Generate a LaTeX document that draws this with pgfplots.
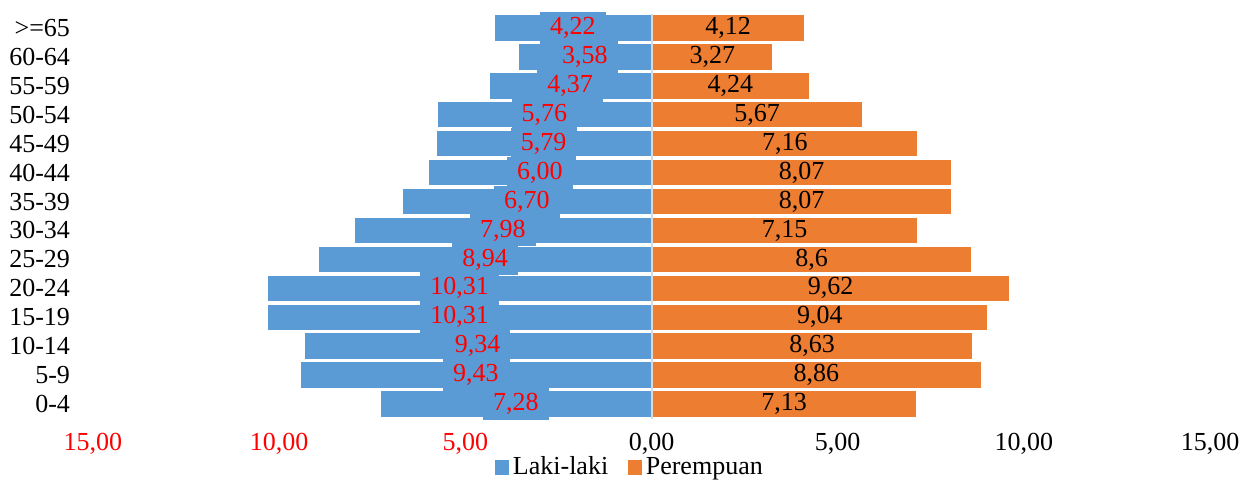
\documentclass[border=0pt]{standalone}
\usepackage{fontspec}
\setmainfont{Liberation Serif}
\usepackage{pgfplots}
\pgfplotsset{compat=1.18}
\usepackage{pgfplotstable}
\definecolor{lk}{HTML}{5B9BD5}
\definecolor{pr}{HTML}{ED7D31}
\definecolor{lbl}{HTML}{FF0000}

% y: 0 = 0-4 ... 13 = >=65 ; m = Laki-laki, f = Perempuan
\pgfplotstableread{
y m f
0 7.28 7.13
1 9.43 8.86
2 9.34 8.63
3 10.31 9.04
4 10.31 9.62
5 8.94 8.6
6 7.98 7.15
7 6.70 8.07
8 6.00 8.07
9 5.79 7.16
10 5.76 5.67
11 4.37 4.24
12 3.58 3.27
13 4.22 4.12
}\pyr

\begin{document}
\fontsize{13}{15}\selectfont
\begin{tikzpicture}
\begin{axis}[
    name=ax,
    scale only axis,
    width=558.5pt, height=202.5pt,
    xmin=-15, xmax=15,
    ymin=-0.5, ymax=13.5,
    clip=false,
    axis line style={draw=none},
    major tick length=0pt,
    font=\fontsize{13}{15}\selectfont,
    xtick={-15,-10,...,15},
    xticklabel={\ifdim\tick pt<-0.01pt\color{lbl}\fi\pgfmathparse{abs(\tick)}\pgfmathprintnumber[fixed,fixed zerofill,precision=2,use comma,assume math mode=true]{\pgfmathresult}},
    xticklabel style={anchor=center, yshift=-12.5pt},
    ytick={0,...,13},
    yticklabels={0-4,5-9,10-14,15-19,20-24,25-29,30-34,35-39,40-44,45-49,50-54,55-59,60-64,>=65},
    yticklabel style={xshift=-7pt},
    legend style={at={(0.4817,0)}, anchor=center, yshift=-24.5pt, draw=none, fill=none,
        legend columns=2, /tikz/every even column/.append style={column sep=8pt},
        font=\fontsize{13}{15}\selectfont},
]
\addplot[xbar, bar width=13.5pt, bar shift=0pt, fill=lk, draw=white, line width=0.8pt,
    legend image code/.code={\fill[lk] (0pt,-3.2pt) rectangle (6pt,3.2pt);}]
    table[x expr=-\thisrow{m}, y=y]{\pyr};
\addlegendentry{Laki-laki}
\addplot[xbar, bar width=13.5pt, bar shift=0pt, fill=pr, draw=white, line width=0.8pt,
    legend image code/.code={\fill[pr] (0pt,-3.2pt) rectangle (6pt,3.2pt);}]
    table[x=f, y=y]{\pyr};
\addlegendentry{Perempuan}

\draw[black!15, line width=1pt] (axis cs:0,-0.5) -- (axis cs:0,13.5);

\addplot[only marks, mark=*, mark size=0pt, mark options={draw=none,fill=none}, forget plot,
    point meta=explicit,
    nodes near coords={\pgfmathprintnumber[fixed,fixed zerofill,precision=2,use comma,assume math mode=true]{\pgfplotspointmeta}},
    every node near coord/.append style={anchor=center, text=lbl, fill=lk, inner xsep=5pt, inner ysep=0pt, minimum height=16pt}]
    table[x expr=-\thisrow{m}/2, y=y, meta=m]{\pyr};
\addplot[only marks, mark=*, mark size=0pt, mark options={draw=none,fill=none}, forget plot,
    point meta=explicit,
    nodes near coords={\pgfmathprintnumber[fixed,precision=2,use comma,assume math mode=true]{\pgfplotspointmeta}},
    every node near coord/.append style={anchor=center, text=black}]
    table[x expr=\thisrow{f}/2, y=y, meta=f]{\pyr};
\end{axis}
\path ([xshift=-46.5pt,yshift=-30.25pt]ax.south west) rectangle ([xshift=19pt,yshift=6.75pt]ax.north east);
\end{tikzpicture}
\end{document}
